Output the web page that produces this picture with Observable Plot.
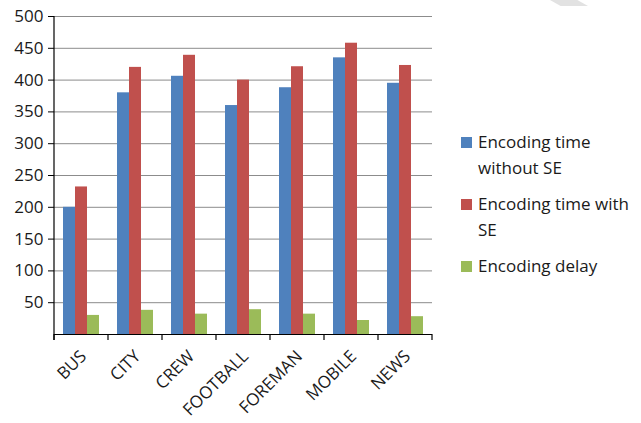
<!DOCTYPE html>
<html>
<head>
<meta charset="utf-8">
<script src="https://cdn.jsdelivr.net/npm/d3@7"></script>
<script src="https://cdn.jsdelivr.net/npm/@observablehq/plot@0.6"></script>
<style>
  html, body { margin: 0; padding: 0; background: #fff; }
  #chart { position: relative; width: 641px; height: 423px; overflow: hidden; font-family: "Open Sans", sans-serif; color: #1a1a1a; }
  #chart svg { position: absolute; left: 0; top: 0; }
  .legend { position: absolute; left: 461px; top: 129px; font-size: 17px; line-height: 25.5px; }
  .legend .item { position: relative; padding-left: 17px; margin-bottom: 11px; white-space: nowrap; }
  .legend .swatch { position: absolute; left: 0; top: 8px; width: 11px; height: 11px; }
  .mark-corner { position: absolute; left: 550px; top: 0; width: 38px; height: 6px; background: #e2e2e2;
    clip-path: polygon(0 0, 72% 0, 100% 100%, 28% 100%); }
</style>
</head>
<body>
<div id="chart"><div class="mark-corner"></div></div>
<script>
// Sequences and series
const categories = ["BUS", "CITY", "CREW", "FOOTBALL", "FOREMAN", "MOBILE", "NEWS"];
const series = ["Encoding time without SE", "Encoding time with SE", "Encoding delay"];
const legendLines = [["Encoding time", "without SE"], ["Encoding time with", "SE"], ["Encoding delay"]];
const withoutSE = [200, 380, 406, 360, 388, 435, 395];
const withSE = [232, 420, 439, 400, 421, 458, 423];
const delay = [30, 38, 32, 39, 32, 22, 28];
const yTicks = [50, 100, 150, 200, 250, 300, 350, 400, 450, 500];
const colors = ["#4F81BD", "#C0504D", "#9BBB59"];

const values = [withoutSE, withSE, delay];
const data = categories.flatMap((c, i) =>
  series.map((s, j) => ({category: c, series: s, value: values[j][i]}))
);

const plot = Plot.plot({
  width: 445,
  height: 423,
  marginLeft: 54,
  marginRight: 13,
  marginTop: 16,
  marginBottom: 89,
  style: {fontFamily: "Open Sans, sans-serif", fontSize: "16px", color: "#1a1a1a", background: "transparent"},
  fx: {domain: categories, paddingInner: 0, paddingOuter: 0, label: null},
  x: {domain: series, paddingInner: 0, paddingOuter: 0.75, axis: null},
  y: {domain: [0, 500], label: null},
  color: {domain: series, range: colors},
  marks: [
    Plot.gridY(yTicks, {stroke: "#8c8c8c", strokeOpacity: 1}),
    Plot.barY(data, {fx: "category", x: "series", y: "value", fill: "series"}),
    Plot.ruleY([0], {stroke: "#000", strokeWidth: 1.2}),
    Plot.axisY(yTicks, {tickSize: 6, tickPadding: 5, label: null, fontSize: 17, stroke: "#000"}),
    Plot.axisFx({anchor: "bottom", tickRotate: -45, tickSize: 0, tickPadding: 14, dx: 2, dy: 5, label: null, fontSize: 17})
  ]
});

document.getElementById("chart").appendChild(plot);

// Axis lines: vertical value axis and category boundary ticks
const svg = d3.select(plot);
const y = plot.scale("y");
const fx = plot.scale("fx");
const y0 = y.apply(0), y1 = y.apply(500);
const left = fx.apply(categories[0]);
svg.append("line")
  .attr("x1", left).attr("x2", left).attr("y1", y1).attr("y2", y0 + 6)
  .attr("stroke", "#000").attr("stroke-width", 1.2);
const bounds = categories.map(c => fx.apply(c)).concat(fx.apply(categories[categories.length - 1]) + fx.step);
svg.append("g").selectAll("line").data(bounds).join("line")
  .attr("x1", d => d).attr("x2", d => d).attr("y1", y0).attr("y2", y0 + 6)
  .attr("stroke", "#000").attr("stroke-width", 1.2);

// Legend
const legend = d3.select("#chart").append("div").attr("class", "legend");
series.forEach((s, i) => {
  const item = legend.append("div").attr("class", "item");
  item.append("span").attr("class", "swatch").style("background", colors[i]);
  item.append("span").html(legendLines[i].join("<br>"));
});
</script>
</body>
</html>
